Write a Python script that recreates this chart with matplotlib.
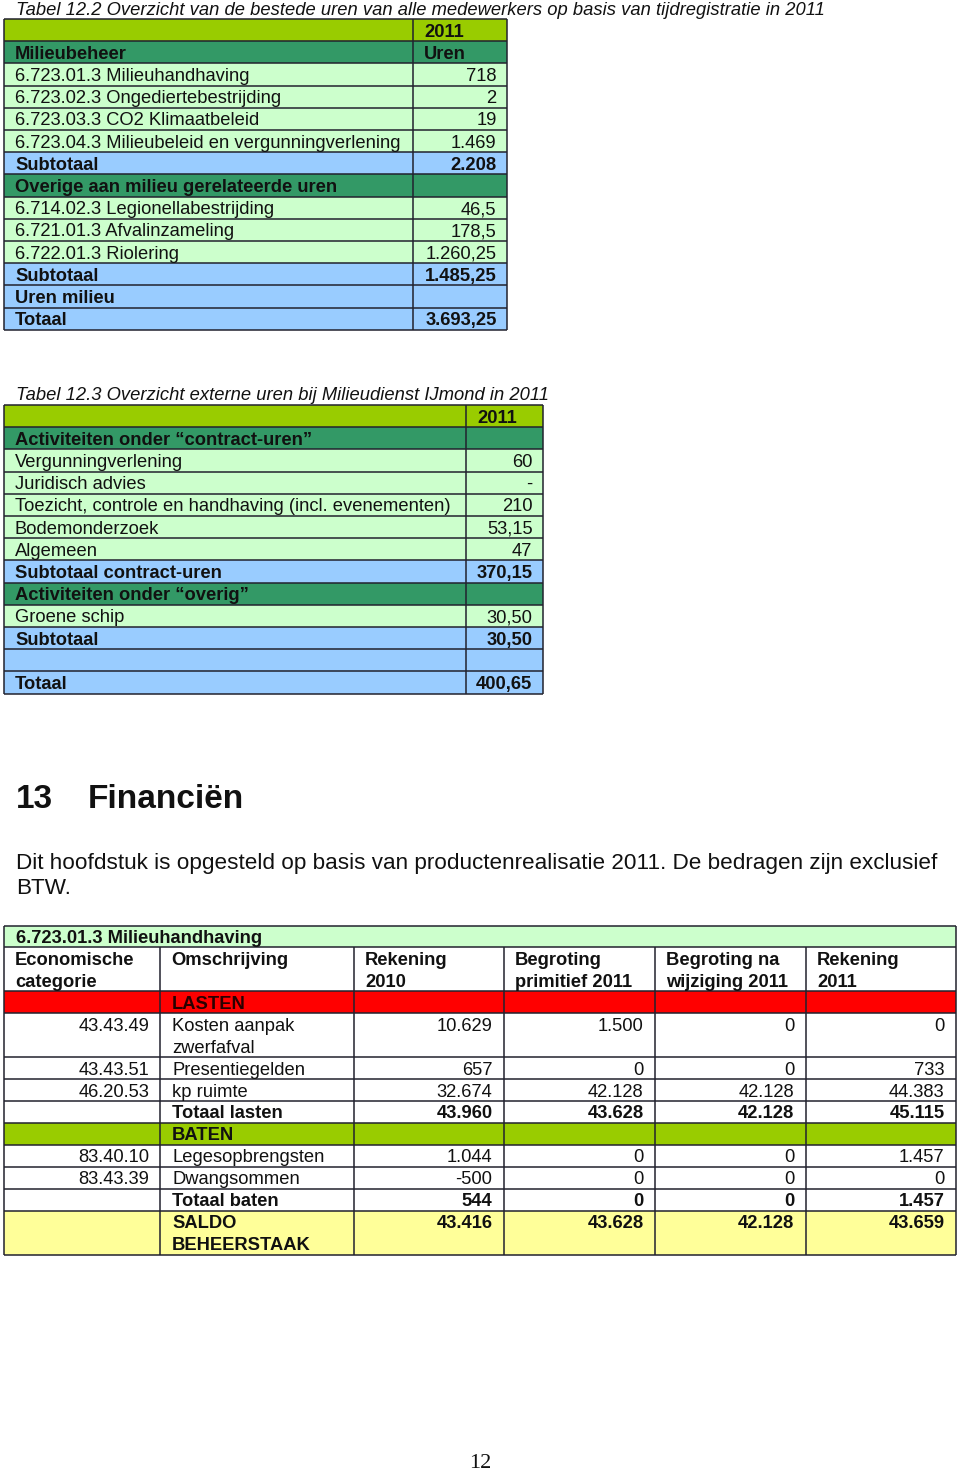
import matplotlib.pyplot as plt
from matplotlib.patches import Rectangle

plt.rcParams['font.family'] = ['Liberation Sans', 'DejaVu Sans']

# ------------------------------------------------------------
# Data
# ------------------------------------------------------------
t1_title = "Tabel 12.2 Overzicht van de bestede uren van alle medewerkers op basis van tijdregistratie in 2011"
t1_labels = ["", "Milieubeheer", "6.723.01.3 Milieuhandhaving", "6.723.02.3 Ongediertebestrijding",
             "6.723.03.3 CO2 Klimaatbeleid", "6.723.04.3 Milieubeleid en vergunningverlening",
             "Subtotaal", "Overige aan milieu gerelateerde uren", "6.714.02.3 Legionellabestrijding",
             "6.721.01.3 Afvalinzameling", "6.722.01.3 Riolering", "Subtotaal", "Uren milieu", "Totaal"]
t1_values = ["2011", "Uren", "718", "2", "19", "1.469", "2.208", "", "46,5", "178,5",
             "1.260,25", "1.485,25", "", "3.693,25"]
t1_kinds = ["year", "section", "item", "item", "item", "item", "sub", "section",
            "item", "item", "item", "sub", "sub", "sub"]

t2_title = "Tabel 12.3 Overzicht externe uren bij Milieudienst IJmond in 2011"
t2_labels = ["", "Activiteiten onder \u201ccontract-uren\u201d", "Vergunningverlening", "Juridisch advies",
             "Toezicht, controle en handhaving (incl. evenementen)", "Bodemonderzoek", "Algemeen",
             "Subtotaal contract-uren", "Activiteiten onder \u201coverig\u201d", "Groene schip",
             "Subtotaal", "", "Totaal"]
t2_values = ["2011", "", "60", "-", "210", "53,15", "47", "370,15", "", "30,50", "30,50", "", "400,65"]
t2_kinds = ["year", "section", "item", "item", "item", "item", "item", "sub", "section",
            "item", "sub", "sub", "sub"]

chapter_no = "13"
chapter_title = "Financi\u00ebn"
intro_lines = ["Dit hoofdstuk is opgesteld op basis van productenrealisatie 2011. De bedragen zijn exclusief",
               "BTW."]

t3_title = "6.723.01.3 Milieuhandhaving"
t3_headers = ["Economische\ncategorie", "Omschrijving", "Rekening\n2010",
              "Begroting\nprimitief 2011", "Begroting na\nwijziging 2011", "Rekening\n2011"]
t3_codes = ["", "43.43.49", "43.43.51", "46.20.53", "", "", "83.40.10", "83.43.39", "", ""]
t3_desc = ["LASTEN", "Kosten aanpak\nzwerfafval", "Presentiegelden", "kp ruimte", "Totaal lasten",
           "BATEN", "Legesopbrengsten", "Dwangsommen", "Totaal baten", "SALDO\nBEHEERSTAAK"]
rekening_2010 = ["", "10.629", "657", "32.674", "43.960", "", "1.044", "-500", "544", "43.416"]
begroting_primitief_2011 = ["", "1.500", "0", "42.128", "43.628", "", "0", "0", "0", "43.628"]
begroting_wijziging_2011 = ["", "0", "0", "42.128", "42.128", "", "0", "0", "0", "42.128"]
rekening_2011 = ["", "0", "733", "44.383", "45.115", "", "1.457", "0", "1.457", "43.659"]
t3_kinds = ["lasten", "line", "line", "line", "total", "baten", "line", "line", "total", "saldo"]

page_number = "12"

# ------------------------------------------------------------
# Styles
# ------------------------------------------------------------
FILL = {"year": "#99cc00", "section": "#339966", "item": "#ccffcc", "sub": "#99ccff",
        "lasten": "#ff0000", "baten": "#99cc00", "line": "white", "total": "white",
        "saldo": "#ffff99"}
BOLD = {"year", "section", "sub", "lasten", "baten", "total", "saldo"}
INK = "#111111"
EDGE = "#22222e"
FS = 13.2
ROW = 22.2

fig = plt.figure(figsize=(9.6, 14.75), dpi=100)
ax = fig.add_axes([0, 0, 1, 1])
ax.set_xlim(0, 960)
ax.set_ylim(1475, 0)
ax.axis("off")


def two_col_table(top, x0, xdiv, x1, labels, values, kinds):
    n = len(labels)
    for i, (lab, val, kind) in enumerate(zip(labels, values, kinds)):
        y = top + i * ROW
        ax.add_patch(Rectangle((x0, y), x1 - x0, ROW, facecolor=FILL[kind], edgecolor="none"))
        w = "bold" if kind in BOLD else "normal"
        base = y + ROW - 4.6
        ax.text(x0 + 11, base, lab, fontsize=FS, fontweight=w, color=INK, va="baseline")
        if kind in ("year", "section"):
            ax.text(xdiv + 11, base, val, fontsize=FS, fontweight=w, color=INK, va="baseline")
        else:
            ax.text(x1 - 10.5, base, val, fontsize=FS, fontweight=w, color=INK,
                    va="baseline", ha="right")
    bottom = top + n * ROW
    ys = [top + i * ROW for i in range(n + 1)]
    ax.hlines(ys, x0, x1, color=EDGE, lw=1.1)
    ax.vlines([x0, xdiv, x1], top, bottom, color=EDGE, lw=1.1)


# Table 12.2
ax.text(16, 15, t1_title, fontsize=FS, style="italic", color=INK, va="baseline")
two_col_table(19, 4, 413, 507, t1_labels, t1_values, t1_kinds)

# Table 12.3
ax.text(16, 400, t2_title, fontsize=FS, style="italic", color=INK, va="baseline")
two_col_table(405, 4, 466, 543, t2_labels, t2_values, t2_kinds)

# Chapter heading + intro
ax.text(16, 808, chapter_no, fontsize=24, fontweight="bold", color=INK, va="baseline")
ax.text(88, 808, chapter_title, fontsize=24, fontweight="bold", color=INK, va="baseline")
for k, line in enumerate(intro_lines):
    ax.text(16, 869 + k * 25, line, fontsize=16.2, color=INK, va="baseline")

# Table 6.723.01.3
cols = [4, 160, 354, 504, 655, 806, 956]
U = 21.95
t3_top = 925.5
ax.add_patch(Rectangle((cols[0], t3_top), cols[-1] - cols[0], U, facecolor="#ccffcc", edgecolor="none"))
ax.text(16, t3_top + U - 4.6, t3_title, fontsize=FS, fontweight="bold", color=INK, va="baseline")
hy = t3_top + U
for j, h in enumerate(t3_headers):
    for k, part in enumerate(h.split("\n")):
        ax.text(cols[j] + 11, hy + U - 4.6 + k * U, part, fontsize=FS, fontweight="bold",
                color=INK, va="baseline")
row_tops = [hy, hy + 2 * U]
amounts = [rekening_2010, begroting_primitief_2011, begroting_wijziging_2011, rekening_2011]
y = hy + 2 * U
for i, kind in enumerate(t3_kinds):
    nlines = len(t3_desc[i].split("\n"))
    h = nlines * U
    ax.add_patch(Rectangle((cols[0], y), cols[-1] - cols[0], h, facecolor=FILL[kind], edgecolor="none"))
    base = y + U - 4.6
    w = "bold" if kind in BOLD else "normal"
    ax.text(cols[1] - 10.5, base, t3_codes[i], fontsize=FS, color=INK, va="baseline", ha="right")
    for k, part in enumerate(t3_desc[i].split("\n")):
        c = "#2a0000" if kind == "lasten" else INK
        ax.text(cols[1] + 12, base + k * U, part, fontsize=FS, fontweight=w, color=c, va="baseline")
    for j, series in enumerate(amounts):
        ax.text(cols[j + 3] - 11.5, base, series[i], fontsize=FS, fontweight=w, color=INK,
                va="baseline", ha="right")
    y += h
    row_tops.append(y)
t3_bottom = y
ax.hlines([t3_top] + row_tops, cols[0], cols[-1], color=EDGE, lw=1.1)
ax.vlines([cols[0], cols[-1]], t3_top, t3_bottom, color=EDGE, lw=1.1)
ax.vlines(cols[1:-1], hy, t3_bottom, color=EDGE, lw=1.1)

# Page number
ax.text(480, 1468, page_number, fontsize=16, family="Liberation Serif", color=INK,
        ha="center", va="baseline")

fig.savefig("out.png", dpi=100, facecolor="white")
